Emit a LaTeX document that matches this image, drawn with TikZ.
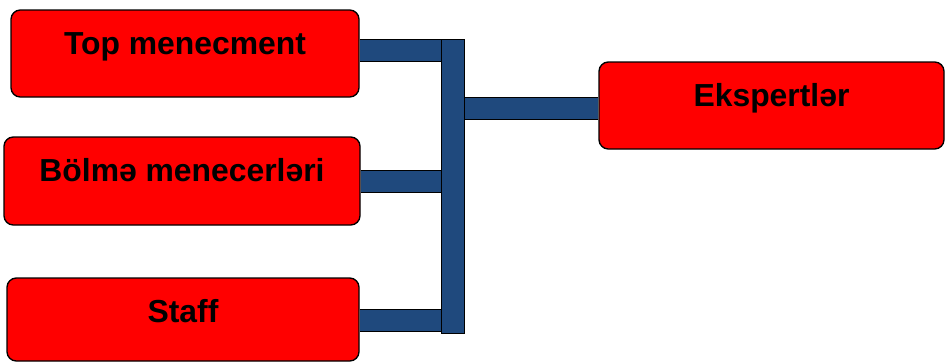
\documentclass[tikz,border=0pt]{standalone}
\usepackage{fontspec}
\setmainfont{Liberation Sans}
\usepackage{tikz}
\usetikzlibrary{backgrounds}
\definecolor{boxred}{RGB}{255,0,0}
\definecolor{barblue}{RGB}{31,73,125}

\begin{document}
\begin{tikzpicture}[
  x=0.75pt, y=0.75pt,
  every node/.style={font=\fontsize{23.9}{28}\selectfont\bfseries},
  mgrbox/.style={draw=black,line width=1pt,fill=boxred,rounded corners=7pt,
    inner sep=0pt,text height=33pt,text depth=#1,align=center},
  barline/.style={line width=0.75pt,draw=black,double=barblue,double distance=15.75pt},
  spinebar/.style={draw=black,line width=0.75pt,fill=barblue,inner sep=0pt,
    minimum width=17.25pt,minimum height=220.5pt}
]
\useasboundingbox (0,0) rectangle (945,362);

\node[mgrbox=32.25pt, minimum width=261pt]    (top)   at (185,308.5)   {Top menecment};
\node[mgrbox=33pt,    minimum width=267pt]    (mid)   at (182,181)     {Bölmə menecerləri};
\node[mgrbox=29.25pt, minimum width=264pt]    (staff) at (183,42.5)    {Staff};
\node[mgrbox=32.25pt, minimum width=258.75pt] (exp)   at (771.5,256.5) {Ekspertlər};

% spine
\node[spinebar] (sp) at (452.5,176) {};

% bars into the spine
\begin{scope}[on background layer]
  \draw[barline] ([yshift=2.25pt]top.east) -- ([yshift=2.25pt]top.east -| sp.west);
  \draw[barline] (mid.east) -- (mid.east -| sp.west);
  \draw[barline] ([yshift=-1.1pt]staff.east) -- ([yshift=-1.1pt]staff.east -| sp.west);
  \draw[barline] ([yshift=-1.9pt]exp.west) -- ([yshift=-1.9pt]exp.west -| sp.east);
\end{scope}

\end{tikzpicture}
\end{document}
